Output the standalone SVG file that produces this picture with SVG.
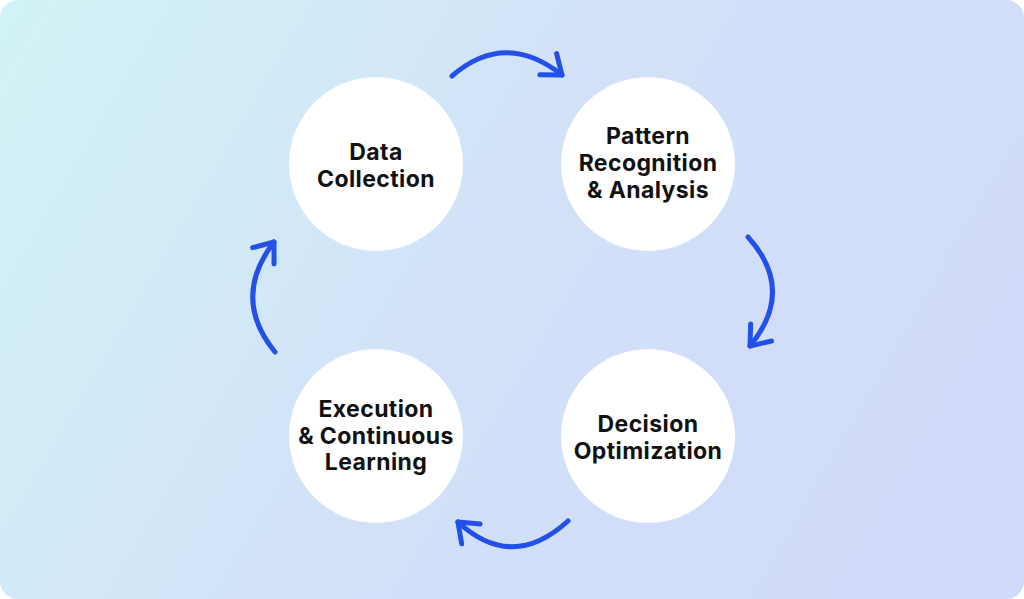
<svg xmlns="http://www.w3.org/2000/svg" width="1024" height="599" viewBox="0 0 1024 599">
  <defs>
    <linearGradient id="bg" x1="0" y1="0" x2="1024" y2="599" gradientUnits="userSpaceOnUse">
      <stop offset="0" stop-color="#d2f4f6"/>
      <stop offset="0.5" stop-color="#d2e0f8"/>
      <stop offset="1" stop-color="#d1dafa"/>
    </linearGradient>
    <marker id="chev" markerUnits="userSpaceOnUse" markerWidth="40" markerHeight="40" viewBox="-25 -20 30 40" refX="0" refY="0" orient="auto" overflow="visible">
      <path d="M-17.5,-13.5 L0,0 L-17.5,13.5" fill="none" stroke="#2450ea" stroke-width="5" stroke-linecap="round" stroke-linejoin="round"/>
    </marker>
    <style>
      .node circle { fill: #ffffff; }
      .node text { font-family: Inter, "DejaVu Sans", sans-serif; font-weight: 700; font-size: 23px; letter-spacing: 0.4px; fill: #111111; text-anchor: middle; }
      .arrow { fill: none; stroke: #2450ea; stroke-width: 5; stroke-linecap: round; marker-end: url(#chev); }
    </style>
  </defs>
  <rect x="0" y="0" width="1024" height="599" fill="#ffffff"/>
  <rect x="0" y="0" width="1024" height="599" rx="18" ry="18" fill="url(#bg)"/>

  <g id="connectors">
    <path class="arrow" d="M452,76 Q505,30 562,75"/>
    <path class="arrow" d="M748,237 Q796,290 750,346"/>
    <path class="arrow" d="M568,521 Q512,572 458,522"/>
    <path class="arrow" d="M275,352 Q231,298 274,242"/>
  </g>

  <g id="data-collection" class="node">
    <circle cx="376" cy="164" r="87"/>
    <text x="376" y="160">Data</text>
    <text x="376" y="187">Collection</text>
  </g>
  <g id="pattern-recognition" class="node">
    <circle cx="648" cy="164" r="87"/>
    <text x="648" y="144">Pattern</text>
    <text x="648" y="171">Recognition</text>
    <text x="648" y="198">&amp; Analysis</text>
  </g>
  <g id="decision-optimization" class="node">
    <circle cx="648" cy="436" r="87"/>
    <text x="648" y="432">Decision</text>
    <text x="648" y="459">Optimization</text>
  </g>
  <g id="execution" class="node">
    <circle cx="376" cy="436" r="87"/>
    <text x="376" y="417">Execution</text>
    <text x="376" y="444">&amp; Continuous</text>
    <text x="376" y="470">Learning</text>
  </g>
</svg>
